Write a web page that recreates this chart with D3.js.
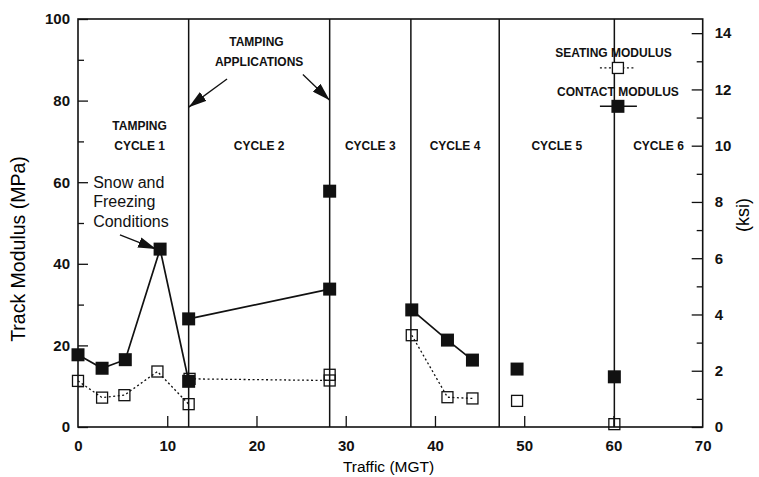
<!DOCTYPE html>
<html>
<head>
<meta charset="utf-8">
<script src="https://cdn.jsdelivr.net/npm/d3@7.9.0/dist/d3.min.js"></script>
<style>
  html, body { margin: 0; padding: 0; background: #fff; }
  svg { display: block; font-family: "Liberation Sans", Arial, Helvetica, sans-serif; }
  .tick text { font-size: 15px; font-weight: bold; fill: #111; }
  .tick line { stroke: #111; stroke-width: 1.3; }
  .domain { display: none; }
  .note { font-size: 12px; font-weight: bold; fill: #111; }
</style>
</head>
<body>
<svg id="chart" width="759" height="477"></svg>
<script>
// ===== data =====
// contact modulus (filled squares), one list per tamping cycle
const contactX = [[0, 2.7, 5.3, 9.2, 12.4], [12.4, 28.2], [28.2], [37.4, 41.4, 44.2], [49.2], [60.1]];
const contactY = [[17.7, 14.4, 16.5, 43.6, 11.2], [26.5, 33.8], [57.8], [28.7, 21.3, 16.4], [14.2], [12.3]];

// seating modulus (open squares)
const seatingX = [[0, 2.7, 5.2, 8.9, 12.4], [12.5, 28.2], [28.2], [37.4, 41.4, 44.2], [49.2], [60.1]];
const seatingY = [[11.3, 7.2, 7.8, 13.6, 5.6], [11.8, 11.4], [12.8], [22.5, 7.3, 7.0], [6.4], [0.7]];

// tamping applications (cycle boundaries), MGT
const tampingAt = [12.4, 28.2, 37.3, 47.2, 60.1];
const cycleLabels = ['CYCLE 2', 'CYCLE 3', 'CYCLE 4', 'CYCLE 5', 'CYCLE 6'];

const xTicks = [0, 10, 20, 30, 40, 50, 60, 70];
const yTicks = [0, 20, 40, 60, 80, 100];
const ksiTicks = [0, 2, 4, 6, 8, 10, 12, 14];
const MPA_PER_KSI = 6.895;

// ===== layout =====
const svg = d3.select('#chart');
const L = 78, R = 702.7, T = 19, B = 427;

const x = d3.scaleLinear().domain([0, 70]).range([L, R]);
const y = d3.scaleLinear().domain([0, 100]).range([B, T]);
const ksi = d3.scaleLinear().domain([0, 100 / MPA_PER_KSI]).range([B, T]);

// arrowhead marker
svg.append('defs').append('marker')
    .attr('id', 'head')
    .attr('viewBox', '0 0 18 11')
    .attr('refX', 18).attr('refY', 5.5)
    .attr('markerWidth', 18).attr('markerHeight', 11)
    .attr('markerUnits', 'userSpaceOnUse')
    .attr('orient', 'auto')
  .append('path')
    .attr('d', 'M0,0 L18,5.5 L0,11 Z')
    .attr('fill', '#111');

// ===== axes =====
svg.append('g')
    .attr('transform', `translate(${L},0)`)
    .call(d3.axisLeft(y).tickValues(yTicks).tickSize(-10).tickSizeOuter(0).tickPadding(8));
svg.append('g')
    .attr('transform', `translate(${L},0)`)
    .call(d3.axisLeft(y).tickValues(d3.range(10, 100, 20)).tickSize(-6).tickFormat(''));

svg.append('g')
    .attr('transform', `translate(${R},0)`)
    .call(d3.axisRight(ksi).tickValues(ksiTicks).tickSize(-11).tickSizeOuter(0).tickPadding(12));
svg.append('g')
    .attr('transform', `translate(${R},0)`)
    .call(d3.axisRight(ksi).tickValues(d3.range(1, 14, 2)).tickSize(-6).tickFormat(''));

const xAxis = svg.append('g')
    .attr('transform', `translate(0,${B})`)
    .call(d3.axisBottom(x).tickValues(xTicks).tickSize(-11).tickSizeOuter(0).tickPadding(13));
// no tick marks at the corners
xAxis.selectAll('.tick line').filter(d => d === 0 || d === 70).remove();

// frame
svg.append('rect')
    .attr('x', L).attr('y', T)
    .attr('width', R - L).attr('height', B - T)
    .attr('fill', 'none').attr('stroke', '#111').attr('stroke-width', 1.6);

// axis titles
svg.append('text')
    .attr('transform', `translate(25,249) rotate(-90)`)
    .attr('text-anchor', 'middle')
    .style('font-size', '19.5px')
    .text('Track Modulus (MPa)');
svg.append('text')
    .attr('transform', `translate(749,215) rotate(-90)`)
    .attr('text-anchor', 'middle')
    .style('font-size', '18px')
    .text('(ksi)');
svg.append('text')
    .attr('x', x(34.8)).attr('y', 472)
    .attr('text-anchor', 'middle')
    .style('font-size', '15.5px')
    .text('Traffic (MGT)');

// ===== cycle boundaries =====
svg.selectAll('line.cycle')
  .data(tampingAt)
  .join('line')
    .attr('class', 'cycle')
    .attr('x1', d => x(d)).attr('x2', d => x(d))
    .attr('y1', T).attr('y2', B)
    .attr('stroke', '#111').attr('stroke-width', 1.5);

// cycle labels sit in the middle of each cycle
const cycleEdges = [...tampingAt, 70];
svg.selectAll('text.cyc')
  .data(cycleLabels)
  .join('text')
    .attr('class', 'note cyc')
    .attr('x', (d, i) => x((cycleEdges[i] + cycleEdges[i + 1]) / 2))
    .attr('y', y(68.9) + 4)
    .attr('text-anchor', 'middle')
    .text(d => d);

svg.append('text').attr('class', 'note')
    .attr('x', x(6.9)).attr('y', y(73.8) + 4)
    .attr('text-anchor', 'middle').text('TAMPING');
svg.append('text').attr('class', 'note')
    .attr('x', x(6.9)).attr('y', y(68.9) + 4)
    .attr('text-anchor', 'middle').text('CYCLE 1');

// tamping applications callout
svg.append('text').attr('class', 'note')
    .attr('x', x(20.0)).attr('y', y(94.4) + 4)
    .attr('text-anchor', 'middle').text('TAMPING');
svg.append('text').attr('class', 'note')
    .attr('x', x(20.3)).attr('y', y(89.5) + 4)
    .attr('text-anchor', 'middle').text('APPLICATIONS');

const arrows = [
  [[16.7, 85.3], [12.4, 78.4]],
  [[25.2, 86.4], [28.2, 80.1]],
  [[4.7, 47.1], [8.75, 43.6]]
];
svg.selectAll('line.arrow')
  .data(arrows)
  .join('line')
    .attr('class', 'arrow')
    .attr('x1', d => x(d[0][0])).attr('y1', d => y(d[0][1]))
    .attr('x2', d => x(d[1][0])).attr('y2', d => y(d[1][1]))
    .attr('stroke', '#111').attr('stroke-width', 1.3)
    .attr('marker-end', 'url(#head)');

// snow note
const snow = svg.append('text')
    .style('font-size', '16px')
    .attr('fill', '#111');
['Snow and', 'Freezing', 'Conditions'].forEach((t, i) => {
  snow.append('tspan').attr('x', x(1.7)).attr('y', y(60 - i * 4.85) + 5.5).text(t);
});

// ===== series =====
const line = d3.line().x(d => x(d[0])).y(d => y(d[1]));
const seatingPts = seatingX.map((xs, i) => xs.map((v, j) => [v, seatingY[i][j]]));
const contactPts = contactX.map((xs, i) => xs.map((v, j) => [v, contactY[i][j]]));

svg.selectAll('path.seat')
  .data(seatingPts.filter(s => s.length > 1))
  .join('path')
    .attr('class', 'seat')
    .attr('d', line)
    .attr('fill', 'none').attr('stroke', '#111')
    .attr('stroke-width', 1.3).attr('stroke-dasharray', '2,2.5');

svg.selectAll('rect.seat')
  .data(seatingPts.flat())
  .join('rect')
    .attr('class', 'seat')
    .attr('x', d => x(d[0]) - 5.5).attr('y', d => y(d[1]) - 5.5)
    .attr('width', 11).attr('height', 11)
    .attr('fill', 'none').attr('stroke', '#111').attr('stroke-width', 1.3);

svg.selectAll('path.contact')
  .data(contactPts.filter(s => s.length > 1))
  .join('path')
    .attr('class', 'contact')
    .attr('d', line)
    .attr('fill', 'none').attr('stroke', '#111').attr('stroke-width', 1.7);

svg.selectAll('rect.contact')
  .data(contactPts.flat())
  .join('rect')
    .attr('class', 'contact')
    .attr('x', d => x(d[0]) - 6.5).attr('y', d => y(d[1]) - 6.5)
    .attr('width', 13).attr('height', 13)
    .attr('fill', '#111');

// ===== legend =====
const legX = 60.5;
svg.append('text').attr('class', 'note')
    .attr('x', x(60.0)).attr('y', y(91.7) + 4.5)
    .attr('text-anchor', 'middle').text('SEATING MODULUS');
svg.append('line')
    .attr('x1', x(legX) - 18).attr('x2', x(legX) + 17)
    .attr('y1', y(88)).attr('y2', y(88))
    .attr('stroke', '#111').attr('stroke-width', 1.3).attr('stroke-dasharray', '2,2.5');
svg.append('rect')
    .attr('x', x(legX) - 5.5).attr('y', y(88) - 5.5)
    .attr('width', 11).attr('height', 11)
    .attr('fill', '#fff').attr('stroke', '#111').attr('stroke-width', 1.3);

svg.append('text').attr('class', 'note')
    .attr('x', x(60.5)).attr('y', y(82.2) + 4.5)
    .attr('text-anchor', 'middle').text('CONTACT MODULUS');
svg.append('line')
    .attr('x1', x(legX) - 18).attr('x2', x(legX) + 19)
    .attr('y1', y(78.6)).attr('y2', y(78.6))
    .attr('stroke', '#111').attr('stroke-width', 1.5);
svg.append('rect')
    .attr('x', x(legX) - 6.5).attr('y', y(78.6) - 6.5)
    .attr('width', 13).attr('height', 13)
    .attr('fill', '#111');
</script>
</body>
</html>
